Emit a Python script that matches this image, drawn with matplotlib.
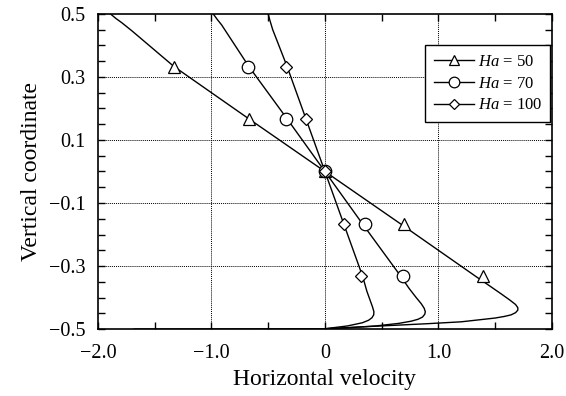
import matplotlib
matplotlib.use("Agg")
import matplotlib.pyplot as plt
from matplotlib.ticker import MultipleLocator

plt.rcParams["font.family"] = ["Liberation Serif", "DejaVu Serif"]
plt.rcParams["mathtext.fontset"] = "custom"
plt.rcParams["mathtext.it"] = "Liberation Serif:italic"
plt.rcParams["mathtext.rm"] = "Liberation Serif"

# velocity profiles (x = horizontal velocity, y = vertical coordinate)
ha50_x = [-1.89, -1.87, -1.84, -1.79, -1.70, -1.33, -0.67, 0.0, 0.67, 1.33, 1.46, 1.56, 1.63, 1.68,
          1.70, 1.70, 1.68, 1.64, 1.58, 1.50, 1.35, 1.20, 0.90, 0.50, 0.10, 0.0, -1.68]
ha50_y = [0.500, 0.494, 0.485, 0.472, 0.446, 0.333, 0.167, 0.0, -0.167, -0.333, -0.365, -0.390,
          -0.408, -0.422, -0.432, -0.440, -0.448, -0.455, -0.460, -0.465, -0.471, -0.477, -0.483,
          -0.490, -0.497, -0.499, -0.500]

ha70_x = [-0.985, -0.97, -0.95, -0.91, -0.67, -0.333, 0.0, 0.333, 0.67, 0.74, 0.80, 0.85, 0.875,
          0.885, 0.88, 0.86, 0.82, 0.76, 0.65, 0.45, 0.20, 0.0]
ha70_y = [0.500, 0.493, 0.483, 0.465, 0.333, 0.167, 0.0, -0.167, -0.333, -0.370, -0.398, -0.420,
          -0.434, -0.445, -0.453, -0.462, -0.469, -0.475, -0.482, -0.490, -0.496, -0.499]

ha100_x = [-0.50, -0.485, -0.46, -0.333, -0.167, 0.0, 0.167, 0.333, 0.37, 0.40, 0.42, 0.432,
           0.43, 0.415, 0.385, 0.33, 0.20, 0.0]
ha100_y = [0.500, 0.480, 0.450, 0.333, 0.167, 0.0, -0.167, -0.333, -0.380, -0.410, -0.430,
           -0.445, -0.455, -0.464, -0.472, -0.480, -0.490, -0.499]

# marker positions
mark_y = [0.333, 0.167, 0.0, -0.167, -0.333]
ha50_mx = [-1.33, -0.67, 0.0, 0.70, 1.39]
ha70_mx = [-0.68, -0.34, 0.0, 0.35, 0.69]
ha100_mx = [-0.34, -0.17, 0.0, 0.17, 0.32]

labels = [r"$Ha$ = 50", r"$Ha$ = 70", r"$Ha$ = 100"]
markers = ["^", "o", "D"]
msizes = [8.5, 9, 6]

fig = plt.figure(figsize=(5.66, 3.96), dpi=100)
ax = fig.add_axes([0.173, 0.169, 0.802, 0.796])

curves = [(ha50_x, ha50_y, ha50_mx), (ha70_x, ha70_y, ha70_mx), (ha100_x, ha100_y, ha100_mx)]
for (cx, cy, mx), lab, mk, ms in zip(curves, labels, markers, msizes):
    ax.plot(cx, cy, color="black", lw=1.0, zorder=3)
    ax.plot(mx, mark_y, linestyle="none", marker=mk, ms=ms, mfc="white", mec="black", mew=0.9, zorder=4)
    ax.plot([], [], color="black", lw=1.0, marker=mk, ms=ms * 0.85, mfc="white", mec="black",
            mew=0.9, label=lab)

ax.set_xlim(-2.0, 2.0)
ax.set_ylim(-0.5, 0.5)
ax.set_xticks([-2.0, -1.0, 0.0, 1.0, 2.0])
ax.set_xticklabels(["\u22122.0", "\u22121.0", "0", "1.0", "2.0"])
ax.set_yticks([-0.5, -0.3, -0.1, 0.1, 0.3, 0.5])
ax.set_yticklabels(["\u22120.5", "\u22120.3", "\u22120.1", "0.1", "0.3", "0.5"])
ax.xaxis.set_minor_locator(MultipleLocator(0.5))
ax.yaxis.set_minor_locator(MultipleLocator(0.05))
ax.tick_params(which="both", direction="in", top=True, right=True, labelsize=14.5, width=1.0)
ax.tick_params(which="major", length=5)
ax.tick_params(which="minor", length=5)
ax.tick_params(axis="x", which="major", pad=11)
ax.tick_params(axis="y", which="major", pad=9)
for s in ax.spines.values():
    s.set_linewidth(1.2)

for gx in [-1.0, 0.0, 1.0]:
    ax.axvline(gx, color="black", lw=0.7, ls=(0, (1, 1)), zorder=1)
for gy in [-0.3, -0.1, 0.1, 0.3]:
    ax.axhline(gy, color="black", lw=0.7, ls=(0, (1, 1)), zorder=1)

ax.set_xlabel("Horizontal velocity", fontsize=17, labelpad=4)
ax.set_ylabel("Vertical coordinate", fontsize=17, labelpad=5)

leg = ax.legend(loc="upper right", bbox_to_anchor=(0.997, 0.9), borderaxespad=0, fontsize=12,
                frameon=True, fancybox=False, edgecolor="black", framealpha=1, handlelength=2.4,
                handletextpad=0.25, labelspacing=0.35, borderpad=0.5)
leg.get_frame().set_linewidth(1.0)

fig.savefig("out.png", dpi=100)
